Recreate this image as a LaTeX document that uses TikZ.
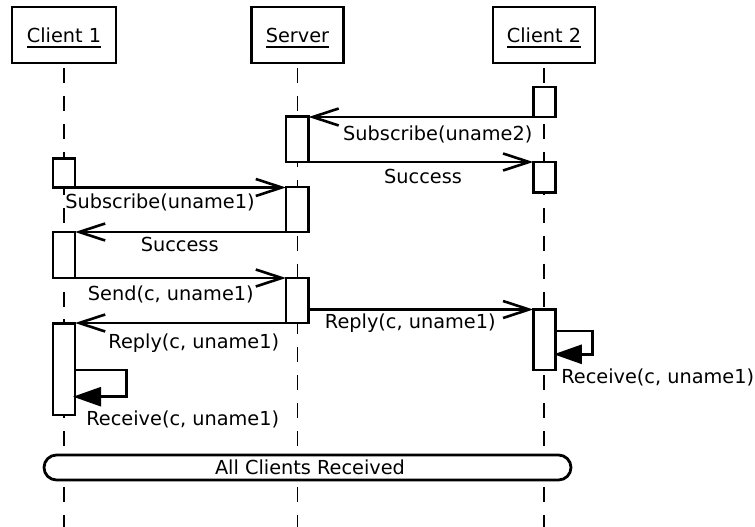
\documentclass[tikz,border=0pt]{standalone}
\usepackage{fontspec}
\setmainfont{DejaVu Sans}
\usetikzlibrary{arrows.meta,calc}
\newcommand\ulinetext[1]{\vtop{\hbox{#1}\kern3.7pt\hrule height 1.5pt}}
\tikzset{
  every node/.style={font=\fontsize{19.3}{23}\selectfont},
  head/.style={draw, line width=2.8pt, fill=white, inner sep=0pt, outer sep=0pt, minimum height=56pt, text depth=0pt},
  act/.style={draw, line width=2.6pt, fill=white, minimum width=22.5pt, inner sep=0pt, outer sep=0pt},
  msg/.style={line width=2.6pt, -{Straight Barb[length=26pt,width=17pt]}},
  selfmsg/.style={line width=2.6pt, -{Triangle[length=28pt,width=19pt]}},
  lifeline/.style={line width=1.8pt, dash pattern=on 15pt off 12.9pt, dash phase=22.6pt},
  lbl/.style={inner sep=0pt, anchor=base},
  band/.style={draw, fill=white, line width=2.8pt, rounded corners=12.5pt, minimum width=527pt, minimum height=25pt, inner sep=0pt, outer sep=0pt}
}
\begin{document}
\begin{tikzpicture}[x=1pt,y=-1pt]
\useasboundingbox (0,0) rectangle (755,527);
\coordinate (bottom) at (0,527);
% headers
\node[head, minimum width=104pt] (c1) at (64,35) {\ulinetext{Client 1}};
\node[head, minimum width=92pt] (srv) at (297.5,35) {\ulinetext{Server}};
\node[head, minimum width=102pt] (c2) at (544,35) {\ulinetext{Client 2}};
% lifelines
\draw[lifeline] (c1.south) -- (c1.south |- bottom);
\draw[lifeline] (srv.south) -- (srv.south |- bottom);
\draw[lifeline] (c2.south) -- (c2.south |- bottom);
% activations
\node[act, minimum height=30pt] (c2a1) at (544.5,102) {};
\node[act, minimum height=45.5pt] (sa1) at (297.25,139.25) {};
\node[act, minimum height=30.5pt] (c2a2) at (544.5,177.25) {};
\node[act, minimum height=29pt, minimum width=22pt] (c1a1) at (64,173) {};
\node[act, minimum height=45pt] (sa2) at (297.25,209.5) {};
\node[act, minimum height=46pt, minimum width=22pt] (c1a2) at (64,255) {};
\node[act, minimum height=45pt] (sa3) at (297.25,300.5) {};
\node[act, minimum height=60.5pt] (c2a3) at (544.5,339.75) {};
\node[act, minimum height=91.5pt, minimum width=22pt] (c1a3) at (64,369.25) {};
% messages
\draw[msg] (c2a1.south west) -- (c2a1.south west -| sa1.east);
\draw[msg] (sa1.south east) -- (sa1.south east -| c2a2.west);
\draw[msg] (c1a1.south east) -- (c1a1.south east -| sa2.west);
\draw[msg] (sa2.south west) -- (sa2.south west -| c1a2.east);
\draw[msg] (c1a2.south east) -- (c1a2.south east -| sa3.west);
\draw[msg] (sa3.south west) -- (sa3.south west -| c1a3.east);
\draw[msg] (c2a3.north west -| sa3.east) -- (c2a3.north west);
% self messages
\coordinate (s2a) at ($(c2a3.north east)+(0,21.5)$);
\coordinate (s2b) at ($(c2a3.north east)+(-2,44.8)$);
\draw[selfmsg] (s2a) -- ++(36.8,0) |- (s2b);
\coordinate (s1a) at ($(c1a3.north east)+(0,46.5)$);
\coordinate (s1b) at ($(c1a3.north east)+(-2,73.2)$);
\draw[selfmsg] (s1a) -- ++(51.7,0) |- (s1b);
% labels
\node[lbl] (l1) at (437.8,140) {Subscribe(uname2)};
\node[lbl] (l2) at (423,183.3) {Success};
\node[lbl] (l3) at (160,208.3) {Subscribe(uname1)};
\node[lbl] (l4) at (179.7,251.7) {Success};
\node[lbl] (l5) at (170.8,300.7) {Send(c, uname1)};
\node[lbl] (l6) at (193.8,348.3) {Reply(c, uname1)};
\node[lbl] (l7) at (410.3,328.3) {Reply(c, uname1)};
\node[lbl] (l8) at (657.7,383.3) {Receive(c, uname1)};
\node[lbl] (l9) at (182.8,425) {Receive(c, uname1)};
% band
\node[band] (allrec) at (307.5,467.5) {\hspace*{5pt}All Clients Received};
\end{tikzpicture}
\end{document}
